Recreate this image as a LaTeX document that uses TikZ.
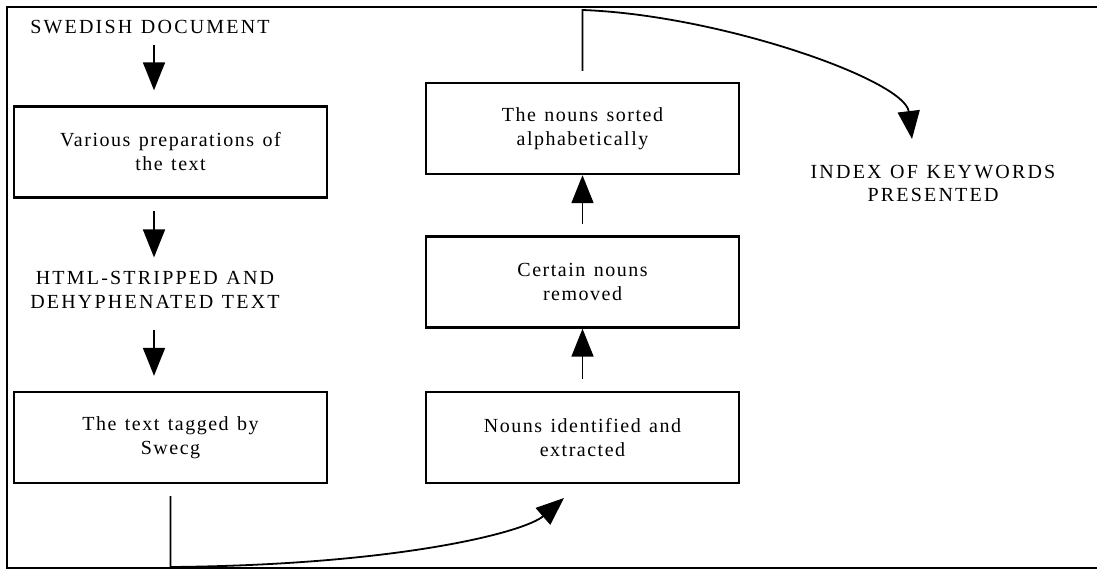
\documentclass[tikz,border=0pt]{standalone}
\usepackage{fontspec}
\setmainfont{Liberation Serif}[LetterSpace=7.5, WordSpace=1.3]
\newfontfamily\capsfont{Liberation Serif}[LetterSpace=11, WordSpace=1.2]
\usetikzlibrary{arrows.meta}
\tikzset{
  stepbox/.style = {draw, line width=2.4pt, minimum width=313pt, minimum height=91pt, align=center, font=\fontsize{20}{24}\selectfont},
  caps_label/.style = {align=center, inner sep=0pt, font=\capsfont\fontsize{20}{23.5}\selectfont},
  flow/.style = {line width=1.8pt, -{Triangle[length=28pt,width=22pt]}}
}

\begin{document}
\begin{tikzpicture}[x=1pt, y=-1pt]
      \useasboundingbox (0,0) rectangle (1097,571);
      \draw[line width=2.2pt] (1097,7) -- (7,7) -- (7,568) -- (1097,568);
      \node [caps_label] (swedish) at (150,27.5) {SWEDISH DOCUMENT};
      \node [stepbox] (prep) at (170.5,152) {Various preparations of\\the text};
      \node [caps_label] (html) at (155,290) {HTML-STRIPPED AND\\DEHYPHENATED TEXT};
      \node [stepbox] (tagged) at (170.5,437.5) {The text tagged by\\Swecg};
      \node [stepbox] (nouns) at (582.5,437.5) {Nouns identified and\\extracted};
      \node [stepbox] (removed) at (582.5,282) {Certain nouns\\removed};
      \node [stepbox] (sorted) at (582.5,128.5) {The nouns sorted\\alphabetically};
      \node [caps_label] (index) at (933,183.5) {INDEX OF KEYWORDS\\PRESENTED};
      \coordinate (nouns_in) at (564,498);
      \coordinate (index_in) at (912,139);
      \draw [flow, shorten <=11pt, shorten >=15pt] (swedish.south -| 154,0) -- (prep.north -| 154,0);
      \draw [flow, shorten <=12pt, shorten >=14pt] (prep.south -| 154,0) -- (html.north -| 154,0);
      \draw [flow, shorten <=21pt, shorten >=15pt] (html.south -| 154,0) -- (tagged.north -| 154,0);
      \draw [flow, shorten <=12pt] (nouns.north) -- (removed.south);
      \draw [flow, shorten <=11pt] (removed.north) -- (sorted.south);
      \draw [flow] ([yshift=-12pt]tagged.south) -- (tagged.south |- 0,567)
        .. controls (400,565) and (525,532) .. (nouns_in);
      \draw [flow] ([yshift=11pt]sorted.north) -- (sorted.north |- 0,10)
        .. controls (720,15) and (905,80) .. (index_in);
    \end{tikzpicture}
\end{document}
